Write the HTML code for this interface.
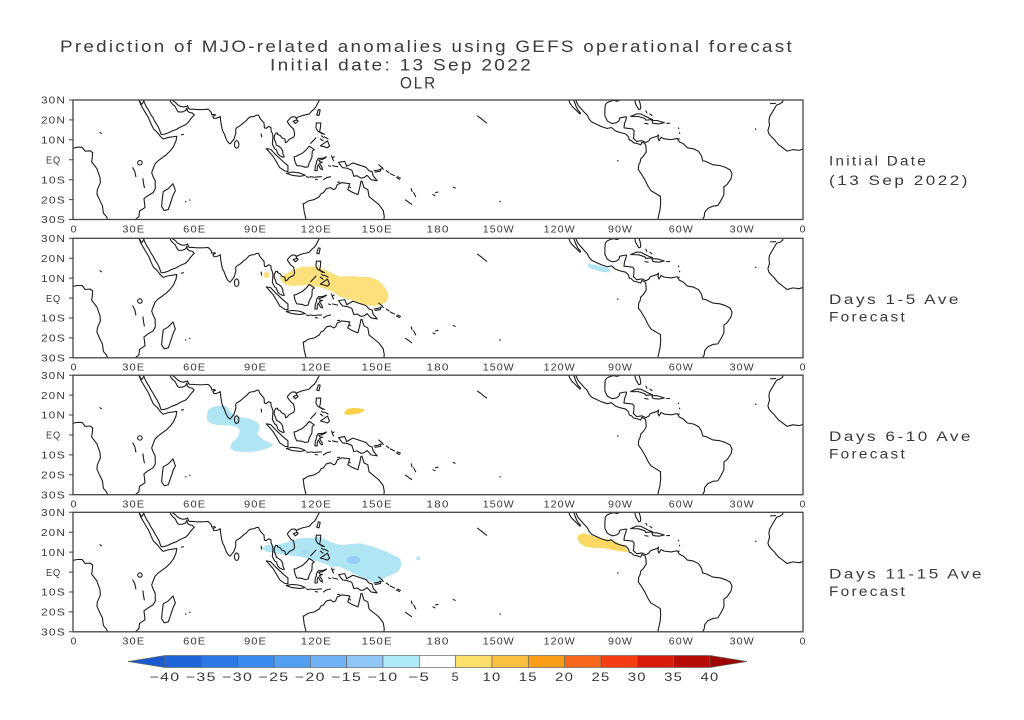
<!DOCTYPE html>
<html><head><meta charset="utf-8"><style>
html,body{margin:0;padding:0;background:#fff;}
svg{display:block;}
text{font-family:"Liberation Sans",sans-serif;fill:#3a3a3a;}
.s{letter-spacing:1px;}
.s2{letter-spacing:2px;}
</style></head><body>
<svg width="1024" height="720" viewBox="0 0 1024 720" xmlns="http://www.w3.org/2000/svg">
<defs>
<clipPath id="cl"><rect x="0" y="0" width="360" height="60"/></clipPath>
<g id="coast" fill="none" stroke="#1e1e1e" stroke-width="0.55" stroke-linejoin="round" stroke-linecap="round" clip-path="url(#cl)">
<path d="M-1,24.4 L2,23.7 4.5,23.7 6,25.7 8.5,25.5 9.7,26.5 9.5,29 9.2,31 11.8,34.5 12.3,36 13.3,38.8 13.5,41.5 12,45 11.8,47.2 13.5,51 14.5,53 15,56.8 16.5,58.6 17.5,61"/>
<path d="M32.5,-1 L32.5,0 33.5,2.5 35.5,6 37.3,9 38.5,12 39.7,14.5 41.5,16.2 43.2,18.4 44.5,19.6 47,18.8 51.2,18.2 50.8,20.5 49.5,23.5 48,25.5 46,27.5 44,29 42,30.5 40.5,32 39.5,34.5 38.8,36.5 39.5,38.5 40.5,40.5 40.6,44.5 39.5,46.5 37,48 35,49.5 35.3,52 35.5,54 32.8,55.8 32.5,58.5 31,59.8 30.3,61"/>
<path d="M32.6,-1 L32.7,0.3 33.8,2.2 34.4,1.5 34.9,0.5 34.7,-1"/>
<path d="M34.9,0.5 L35.5,2 36.5,4 37.5,5.5 38.5,7.5 39.5,9 40.5,11 41.5,12.5 42.5,14.5 43,16 43.5,17.3 45,17.2 47,16.5 49,15.5 51,14.8 52.2,14 53.8,13.2 55.5,12.5 57,11 58,9.5 59.8,7.5 58.8,6.5 57.5,6.3 56.4,5.5 56.2,4 55.5,5.3 54,6 52,6 51.5,5.5 51,4.5 50.5,3.5 50.2,3 49.5,2.5 48.5,1.5 48,0.5 47.8,-1"/>
<path d="M48.8,-1 L48.8,0 50.5,1.2 51.5,2.3 53,3.2 54.5,3.5 56,3.2 56.5,2.8 57,4.2 57.5,4.6 59,4.6 61.5,4.8 64,4.8 66.6,4.6 67.3,5.2 68.2,6.3 68.5,7.5 69.5,7.2 70.3,7.5 69,8.2 69.5,9.2 70.5,9.2 72,8.7 72.6,8.2 72.8,10 72.9,11 73.3,13.5 73.8,15.5 74.6,17 75.5,19.5 76.3,21 77.3,22 77.6,21.9 78.2,21.1 79.3,19.7 79.9,18 80.3,16.5 80.2,14.8 80.6,14 81.3,13.6 82.3,13 84,11.5 85.5,10.3 86.8,8.8 87.5,8.5 88.5,8.3 89.5,8.2 90.5,7.6 91.5,7.6 92,8.8 92.3,9.3 93,10.2 94.2,11.5 94.4,14 95.3,14.2 96.5,13.3 97.6,13.8 97.7,15.5 98.2,16.5 98.6,18 98.5,20 98.3,22 98.7,23 99.5,24.5 100.3,25 101,27 102,28 103.4,28.7 104.2,28.6 103.5,27 103.4,25.5 102.5,24 101.2,23.1 100.3,22.7 100,21.5 99.2,19.5 99.3,18 100,16.6 100.9,16.6 100.9,17.3 102.2,17.8 103,19 104.5,19.6 104.8,21.4 105.6,21 106.7,19.7 108.9,18.6 109.3,17.2 108.8,14.5 107.5,13.5 106.2,11.8 105.7,10.8 106.7,9.5 107.8,8.5 109,8.4 109.8,8.6 110.2,9.6 110.5,8.8 111.8,8.3 113.5,7.7 114.5,7.5 116.5,7 117.8,5.5 119,4.5 119.8,3.4 120.5,2 121.3,0.5 121.8,-1"/>
<ellipse cx="80.7" cy="22.3" rx="1.1" ry="1.9"/>
<path d="M108.6,10.7 L110.5,10 111,10.6 109.7,11.8 Z"/>
<path d="M120.2,7.5 L121,4.8 121.9,5 121.3,7.8 Z"/>
<path d="M92.8,17 L93,18.5"/>
<path d="M95.3,24.4 L97.5,24.8 100,27.5 103.7,31 106,33 106,35.9 104.5,35.7 102,34 100.3,31 98.7,28.3 Z"/>
<path d="M105.2,36.8 L108,36.2 111,36.5 112.6,36.9 114.5,37.8 112,38.3 108,37.8 Z"/>
<path d="M115,38.5 L116.5,38.8 M117,38.5 L119,38.8 M119.5,38.7 L122.5,38.5 M123.5,40 L125,39 127,38.5 M119.5,39.8 L120.5,40"/>
<path d="M109,28.5 L110,28.3 111.5,27.5 113,26.8 115,25 116.5,23.2 117.7,24 119,25 118,25.7 117.8,29 116.5,31.5 116,33.5 114.5,33.8 113,33.2 110.3,32.9 109.5,31 Z"/>
<path d="M125,28.5 L123,29.3 121,29.3 120.2,30.5 120,32 119.5,33 119.3,35.5 120.4,35.5 120.5,33.5 121,32.5 122,34.5 123,35 122.8,33.8 122,32.6 121.5,31.8 123,31.2 121.8,31 121.2,30.2 123,29.8 124.5,29 Z"/>
<path d="M127.5,28 L128,29.5 128.5,30.5 M128,29 L128.8,28.5 M126,33 L127,33.3 M128,33 L130.5,33.5"/>
<path d="M120,11.5 L122.2,11.5 122,14 121.6,16 124,17.2 123,17 120.6,15.5 119.8,14 Z"/>
<path d="M122,23 L125.5,20.5 126.5,23 125.5,24 124,23.5 Z"/>
<path d="M122,19.5 L123.3,20.5 M124,18.5 L125.8,19.5 M117.2,21.8 L119.8,19 M122.5,18 L123.5,18.8"/>
<path d="M131,31.3 L134,30.8 135,33.3 138,31.6 141,32.6 144.5,33.8 146,35.5 147.5,36 148,38 150,40.5 147,40 145,37.8 143.5,39 142,39.2 140,38 138.5,38.3 137.5,35.2 135,34.2 133,34 132,32.8 Z"/>
<path d="M148.5,35.5 L150.5,35.2 152,34.5 151.5,35.8 149,36.2 M150.8,32.5 L152.5,34 153,34.8 M154.5,35.5 L155.8,36.5 M156.5,37 L158.5,38 M159.5,39 L161,39.8 M160,38.5 L161.5,39.2"/>
<path d="M166.8,44.5 L167.2,46 M168,46.5 L169,48.5 M164,50.2 L167,52.4 M177.5,47.5 L178.5,48 M178.8,46.5 L180,46.2 M187.5,43.8 L188.5,44.2 M210.5,51 L210.8,51.1"/>
<path d="M113.5,52 L114,56 114.8,59.5 115,61 M114,52 L116,50.7 119,50 121.5,48.5 122.3,47 123.5,46.5 125,44.5 127,44 128.5,45 129.5,44.5 130.3,42.5 132.5,41.5 136.5,42 136,43.5 135.5,45 137.5,46.2 140.5,47.5 141.5,43.5 142,40.8 142.5,40.7 143.5,44 145.4,45 146,48.5 149,51 150.8,52.5 153,55.5 153.5,58.5 153.2,61"/>
<path d="M130.5,41.3 L131.5,41.2 M136.4,43.6 L136.8,44"/>
<path d="M49.3,42 L50.5,45.5 49.5,47.5 48,52 47,55 45,55.5 43.7,53.5 44,50 44.5,46 47,44.5 Z"/>
<circle cx="33" cy="31.5" r="1.1"/>
<path d="M29.5,34 L30.5,36 31,38.5 M34.5,39.5 L34.8,42 35.2,44 M53.5,17.5 L54.5,17.3 M55.5,51 L55.7,51.1 M57.5,50.2 L57.7,50.3 M13.3,16.3 L14,16.8"/>
<path d="M199.5,8 L201.5,9.5 203,10.8 204,11.5 M268.5,30.5 L268.8,30.6"/>
<path d="M244.2,-1 L245,1.5 246,3 247.5,4.5 249,6 250,7 250.3,6.5 249,5 248,3 247.5,1.5 246.5,-1"/>
<path d="M247.5,-1 L249,2.5 250.7,4.5 252,6 253.5,7.5 254.5,9.5 255.7,11 258.2,12.2 260.5,13.3 263.5,14.3 265.5,13.8 267.5,15.5 269,16.1 270.5,16.5 272.5,17 274,18.5 274.3,20 275.3,20.3 276.5,21.5 278,21.8 280,22.5 280.5,21.2 282,21.8 282.5,23 282.7,26 281.3,28.2 280,29.5 279.6,31.5 279,32.5 278.8,35 280.2,37 282,40 283.7,43.5 285,45.5 288.6,47.7 289.7,48.4 289.8,52 289.5,55 288.6,59 288.4,61"/>
<path d="M270,-1 L269,0.4 268,0.6 267,0.2 266,0.3 264.5,0.8 263.2,1.5 262.5,2.5 262.3,5 262.3,8 263.5,10.5 265,11.4 266,11.8 268,11.4 269.3,10.4 269.6,9 272,8.5 273,8.5 272.5,10.5 272,11.7 271.7,14 273.5,14.2 276,14.5 276.7,15.5 276.5,18.5 276.3,19.2 278,20.8 280.5,20.4 282.5,21.3 284,20.5 284.5,19.5 285.5,19 288,18.2 288.8,17.5 288.5,19.2 289,20.5 290,18.7 291.5,19.5 295,19.9 298,19.3 299,21 301,22 303,24 306,24.5 308.5,25.8 310,28.2 310.5,30.5 312,30.8 315.5,32.5 319,32.9 321.5,33.7 324,35 325,37 324.5,39.5 322.5,42.5 321,43.5 321,47.5 319.5,50.5 318,53 315.5,53.3 313,54.5 311.5,56.5 311.3,58.5 309.8,61"/>
<path d="M277,-1 L277.3,1.5 277.8,2.7 278.5,3.8 279,4.8 279.8,4.5 280,3.5 279.6,1.5 278.8,-1"/>
<path d="M275,8.2 L278,6.9 280,7 282.5,8.3 284.5,9.3 285.8,9.8 282.5,10.1 282,9.3 279,8.3 Z"/>
<path d="M285.5,10.3 L288,10.3 291.6,11.4 289,12 286,11.7 Z"/>
<path d="M282,11.7 L283.6,12 M292.8,11.7 L294.2,11.7 M282.5,5.5 L283,6.5 M284.5,7 L285.5,7.8 M298.5,14 L298.7,14.3 M299,16.5 L299.2,16.8 M298.5,19.6 L299,19.5"/>
<path d="M350.2,-1 L350,1 348.5,2 347,2.5 345.5,5 343.5,8.5 343.2,10.5 343.5,12.5 342.7,15.3 343.2,17 344.5,18.5 346,20 346.7,21 348,22.5 349,23.2 352,25.6 352.5,25.6 355,24.9 358,25.3 361,24.4"/>
<path d="M344,1.8 L346.5,1.7 M336.5,14.5 L336.8,14.7"/>
</g>
</defs>

<g class="s2">
<text x="60" y="52" font-size="16.5" textLength="734" lengthAdjust="spacingAndGlyphs">Prediction of MJO-related anomalies using GEFS operational forecast</text>
<text x="270" y="70.5" font-size="16.5" textLength="263" lengthAdjust="spacingAndGlyphs">Initial date: 13 Sep 2022</text>
<text x="400" y="88.5" font-size="16.5" textLength="37" lengthAdjust="spacingAndGlyphs">OLR</text>
</g>

<polygon fill="#fbe07c" points="280,278 287,273 293,270 300,267 307,266.7 314,266.5 320,268 325,270 330,272 336,275 340,276.7 350,276 360,276.7 368,277 373,278 379,281 383,285 386,289 388,293 388.5,297 388,300 385,303 380,305 373.3,306 366,305 356.7,301.7 348,299 340,296.7 333,292 326.7,289.3 320,287.3 313,286 306.7,285 300,285.5 293.3,286 286.7,285 281.7,281.7"/>
<circle cx="266.7" cy="275" r="3" fill="#fbe07c"/>
<polygon fill="#b0e6f4" points="588,263.5 594,264.5 600,266 607,267.5 611,269.5 609,272.5 603,272 596,270 590,268 587.5,266"/>

<polygon fill="#b0e6f4" points="206.7,416.7 208,410 213.3,406.7 220,405.5 226,406 230,411 233,414 236.7,416.7 242,417.5 246.7,418.3 252,419.5 256.7,421.7 260,426 259,430.5 257,433.5 260,437 264,440 270,443 273.3,445 270,447.5 265,449 258,451 253.3,451.7 246,452 240,451.7 234,451 231,449 230.5,445 233,441.5 237,438 239.5,433 239.5,429.5 236.7,427 230,425.5 224,425.3 216.7,425 211,423.5 207.5,421"/>
<polygon fill="#fbd24e" points="344,413.3 346.7,409.3 352,408 356.7,408 362,408.8 365,410 362,412.5 356,414 350,415 345.5,414.8"/>

<polygon fill="#b0e6f4" points="261.7,548.3 266.7,545 276.7,545 288.3,541.7 300,538.3 313.3,537.7 320,536.7 330,541.7 340,545 360,543.3 373.3,546.7 386.7,551.7 400,558.3 401.7,565 398.3,571.7 386.7,576.7 376.7,583.3 366.7,580 356.7,575 346.7,570 340,566.7 331.7,566.7 323.3,563.3 313.3,560 300,556.7 286.7,555 276.7,553.3 266.7,551.7"/>
<ellipse cx="353.3" cy="560" rx="7" ry="4" fill="#98cdf5"/>
<ellipse cx="305" cy="552" rx="4" ry="2.5" fill="#a4d8f5"/>
<circle cx="418.3" cy="558.3" r="2" fill="#b0e6f4"/>
<polygon fill="#fbd862" points="578.3,535 583.3,533.3 590,535 598.3,537.7 606.7,539 616.7,541.7 625,546.7 628.3,551.7 623.3,551.7 613.3,550 603.3,548.3 593.3,547.7 585,546.7 580,543.3 577.3,538.3"/>

<use href="#coast" transform="translate(73,100) scale(2.02778,1.99167)"/>
<use href="#coast" transform="translate(73,238.3) scale(2.02778,1.99167)"/>
<use href="#coast" transform="translate(73,375.2) scale(2.02778,1.99167)"/>
<use href="#coast" transform="translate(73,512.3) scale(2.02778,1.99167)"/>

<g fill="none" stroke="#444" stroke-width="1.3">
<rect x="73" y="100" width="730" height="119.5"/>
<rect x="73" y="238.3" width="730" height="119.5"/>
<rect x="73" y="375.2" width="730" height="119.5"/>
<rect x="73" y="512.3" width="730" height="119.5"/>
</g>
<g stroke="#444" stroke-width="1">
<path d="M69,100H73M69,119.9H73M69,139.8H73M69,159.8H73M69,179.7H73M69,199.6H73M69,219.5H73"/>
<path d="M69,238.3H73M69,258.2H73M69,278.1H73M69,298.1H73M69,318H73M69,337.9H73M69,357.8H73"/>
<path d="M69,375.2H73M69,395.1H73M69,415H73M69,435H73M69,454.9H73M69,474.8H73M69,494.7H73"/>
<path d="M69,512.3H73M69,532.2H73M69,552.1H73M69,572.1H73M69,592H73M69,611.9H73M69,631.8H73"/>
</g>

<g font-size="10.5" text-anchor="middle" class="s">
<text x="53.5" y="103.7" textLength="25" lengthAdjust="spacingAndGlyphs">30N</text><text x="53.5" y="123.6" textLength="25" lengthAdjust="spacingAndGlyphs">20N</text><text x="53.5" y="143.5" textLength="25" lengthAdjust="spacingAndGlyphs">10N</text><text x="53.5" y="163.5" textLength="15" lengthAdjust="spacingAndGlyphs">EQ</text><text x="53.5" y="183.4" textLength="25" lengthAdjust="spacingAndGlyphs">10S</text><text x="53.5" y="203.3" textLength="25" lengthAdjust="spacingAndGlyphs">20S</text><text x="53.5" y="223.2" textLength="25" lengthAdjust="spacingAndGlyphs">30S</text>
<text x="53.5" y="242" textLength="25" lengthAdjust="spacingAndGlyphs">30N</text><text x="53.5" y="261.9" textLength="25" lengthAdjust="spacingAndGlyphs">20N</text><text x="53.5" y="281.8" textLength="25" lengthAdjust="spacingAndGlyphs">10N</text><text x="53.5" y="301.8" textLength="15" lengthAdjust="spacingAndGlyphs">EQ</text><text x="53.5" y="321.7" textLength="25" lengthAdjust="spacingAndGlyphs">10S</text><text x="53.5" y="341.6" textLength="25" lengthAdjust="spacingAndGlyphs">20S</text><text x="53.5" y="361.5" textLength="25" lengthAdjust="spacingAndGlyphs">30S</text>
<text x="53.5" y="378.9" textLength="25" lengthAdjust="spacingAndGlyphs">30N</text><text x="53.5" y="398.8" textLength="25" lengthAdjust="spacingAndGlyphs">20N</text><text x="53.5" y="418.7" textLength="25" lengthAdjust="spacingAndGlyphs">10N</text><text x="53.5" y="438.7" textLength="15" lengthAdjust="spacingAndGlyphs">EQ</text><text x="53.5" y="458.6" textLength="25" lengthAdjust="spacingAndGlyphs">10S</text><text x="53.5" y="478.5" textLength="25" lengthAdjust="spacingAndGlyphs">20S</text><text x="53.5" y="498.4" textLength="25" lengthAdjust="spacingAndGlyphs">30S</text>
<text x="53.5" y="516" textLength="25" lengthAdjust="spacingAndGlyphs">30N</text><text x="53.5" y="535.9" textLength="25" lengthAdjust="spacingAndGlyphs">20N</text><text x="53.5" y="555.8" textLength="25" lengthAdjust="spacingAndGlyphs">10N</text><text x="53.5" y="575.8" textLength="15" lengthAdjust="spacingAndGlyphs">EQ</text><text x="53.5" y="595.7" textLength="25" lengthAdjust="spacingAndGlyphs">10S</text><text x="53.5" y="615.6" textLength="25" lengthAdjust="spacingAndGlyphs">20S</text><text x="53.5" y="635.5" textLength="25" lengthAdjust="spacingAndGlyphs">30S</text>
</g>

<g font-size="10.5" text-anchor="middle" class="s">
<text x="74" y="232.3">0</text><text x="133.8" y="232.3" textLength="23" lengthAdjust="spacingAndGlyphs">30E</text><text x="194.7" y="232.3" textLength="23" lengthAdjust="spacingAndGlyphs">60E</text><text x="255.5" y="232.3" textLength="23" lengthAdjust="spacingAndGlyphs">90E</text><text x="316.3" y="232.3" textLength="31" lengthAdjust="spacingAndGlyphs">120E</text><text x="377.2" y="232.3" textLength="31" lengthAdjust="spacingAndGlyphs">150E</text><text x="438" y="232.3" textLength="23" lengthAdjust="spacingAndGlyphs">180</text><text x="498.8" y="232.3" textLength="32" lengthAdjust="spacingAndGlyphs">150W</text><text x="559.7" y="232.3" textLength="32" lengthAdjust="spacingAndGlyphs">120W</text><text x="620.5" y="232.3" textLength="25" lengthAdjust="spacingAndGlyphs">90W</text><text x="681.3" y="232.3" textLength="25" lengthAdjust="spacingAndGlyphs">60W</text><text x="742.2" y="232.3" textLength="25" lengthAdjust="spacingAndGlyphs">30W</text><text x="803" y="232.3">0</text>
</g>
<g font-size="10.5" text-anchor="middle" class="s">
<text x="74" y="370.5">0</text><text x="133.8" y="370.5" textLength="23" lengthAdjust="spacingAndGlyphs">30E</text><text x="194.7" y="370.5" textLength="23" lengthAdjust="spacingAndGlyphs">60E</text><text x="255.5" y="370.5" textLength="23" lengthAdjust="spacingAndGlyphs">90E</text><text x="316.3" y="370.5" textLength="31" lengthAdjust="spacingAndGlyphs">120E</text><text x="377.2" y="370.5" textLength="31" lengthAdjust="spacingAndGlyphs">150E</text><text x="438" y="370.5" textLength="23" lengthAdjust="spacingAndGlyphs">180</text><text x="498.8" y="370.5" textLength="32" lengthAdjust="spacingAndGlyphs">150W</text><text x="559.7" y="370.5" textLength="32" lengthAdjust="spacingAndGlyphs">120W</text><text x="620.5" y="370.5" textLength="25" lengthAdjust="spacingAndGlyphs">90W</text><text x="681.3" y="370.5" textLength="25" lengthAdjust="spacingAndGlyphs">60W</text><text x="742.2" y="370.5" textLength="25" lengthAdjust="spacingAndGlyphs">30W</text><text x="803" y="370.5">0</text>
</g>
<g font-size="10.5" text-anchor="middle" class="s">
<text x="74" y="507.4">0</text><text x="133.8" y="507.4" textLength="23" lengthAdjust="spacingAndGlyphs">30E</text><text x="194.7" y="507.4" textLength="23" lengthAdjust="spacingAndGlyphs">60E</text><text x="255.5" y="507.4" textLength="23" lengthAdjust="spacingAndGlyphs">90E</text><text x="316.3" y="507.4" textLength="31" lengthAdjust="spacingAndGlyphs">120E</text><text x="377.2" y="507.4" textLength="31" lengthAdjust="spacingAndGlyphs">150E</text><text x="438" y="507.4" textLength="23" lengthAdjust="spacingAndGlyphs">180</text><text x="498.8" y="507.4" textLength="32" lengthAdjust="spacingAndGlyphs">150W</text><text x="559.7" y="507.4" textLength="32" lengthAdjust="spacingAndGlyphs">120W</text><text x="620.5" y="507.4" textLength="25" lengthAdjust="spacingAndGlyphs">90W</text><text x="681.3" y="507.4" textLength="25" lengthAdjust="spacingAndGlyphs">60W</text><text x="742.2" y="507.4" textLength="25" lengthAdjust="spacingAndGlyphs">30W</text><text x="803" y="507.4">0</text>
</g>
<g font-size="10.5" text-anchor="middle" class="s">
<text x="74" y="644.3">0</text><text x="133.8" y="644.3" textLength="23" lengthAdjust="spacingAndGlyphs">30E</text><text x="194.7" y="644.3" textLength="23" lengthAdjust="spacingAndGlyphs">60E</text><text x="255.5" y="644.3" textLength="23" lengthAdjust="spacingAndGlyphs">90E</text><text x="316.3" y="644.3" textLength="31" lengthAdjust="spacingAndGlyphs">120E</text><text x="377.2" y="644.3" textLength="31" lengthAdjust="spacingAndGlyphs">150E</text><text x="438" y="644.3" textLength="23" lengthAdjust="spacingAndGlyphs">180</text><text x="498.8" y="644.3" textLength="32" lengthAdjust="spacingAndGlyphs">150W</text><text x="559.7" y="644.3" textLength="32" lengthAdjust="spacingAndGlyphs">120W</text><text x="620.5" y="644.3" textLength="25" lengthAdjust="spacingAndGlyphs">90W</text><text x="681.3" y="644.3" textLength="25" lengthAdjust="spacingAndGlyphs">60W</text><text x="742.2" y="644.3" textLength="25" lengthAdjust="spacingAndGlyphs">30W</text><text x="803" y="644.3">0</text>
</g>

<g font-size="13.5" class="s2">
<text x="829" y="165.5" textLength="99" lengthAdjust="spacingAndGlyphs">Initial Date</text>
<text x="829" y="185" textLength="141" lengthAdjust="spacingAndGlyphs">(13 Sep 2022)</text>
<text x="829" y="304" textLength="132" lengthAdjust="spacingAndGlyphs">Days 1-5 Ave</text>
<text x="829" y="321.7" textLength="78" lengthAdjust="spacingAndGlyphs">Forecast</text>
<text x="829" y="441" textLength="144" lengthAdjust="spacingAndGlyphs">Days 6-10 Ave</text>
<text x="829" y="458.3" textLength="78" lengthAdjust="spacingAndGlyphs">Forecast</text>
<text x="829" y="578.3" textLength="155" lengthAdjust="spacingAndGlyphs">Days 11-15 Ave</text>
<text x="829" y="596" textLength="78" lengthAdjust="spacingAndGlyphs">Forecast</text>
</g>

<g stroke="#666" stroke-width="0.7">
<polygon points="128,661.5 165,655.5 165,667.5" fill="#1a5acf"/>
<rect x="165" y="655.5" width="36.33" height="12" fill="#1f64d8"/>
<rect x="201.33" y="655.5" width="36.33" height="12" fill="#2d78e4"/>
<rect x="237.67" y="655.5" width="36.33" height="12" fill="#3b8cee"/>
<rect x="274" y="655.5" width="36.33" height="12" fill="#529ef2"/>
<rect x="310.33" y="655.5" width="36.33" height="12" fill="#70b2f5"/>
<rect x="346.67" y="655.5" width="36.33" height="12" fill="#8fc6f8"/>
<rect x="383" y="655.5" width="36.33" height="12" fill="#aeeaf9"/>
<rect x="419.33" y="655.5" width="36.33" height="12" fill="#ffffff"/>
<rect x="455.67" y="655.5" width="36.33" height="12" fill="#fde06c"/>
<rect x="492" y="655.5" width="36.33" height="12" fill="#fcc040"/>
<rect x="528.33" y="655.5" width="36.33" height="12" fill="#fa9e18"/>
<rect x="564.67" y="655.5" width="36.33" height="12" fill="#f7681c"/>
<rect x="601" y="655.5" width="36.33" height="12" fill="#f23e12"/>
<rect x="637.33" y="655.5" width="36.33" height="12" fill="#da1c0b"/>
<rect x="673.67" y="655.5" width="36.33" height="12" fill="#b80c06"/>
<polygon points="710,655.5 747,661.5 710,667.5" fill="#9e0000"/>
</g>
<g font-size="12" text-anchor="middle" class="s">
<text x="165" y="681" textLength="31" lengthAdjust="spacingAndGlyphs">−40</text>
<text x="201.3" y="681" textLength="31" lengthAdjust="spacingAndGlyphs">−35</text>
<text x="237.7" y="681" textLength="31" lengthAdjust="spacingAndGlyphs">−30</text>
<text x="274" y="681" textLength="31" lengthAdjust="spacingAndGlyphs">−25</text>
<text x="310.3" y="681" textLength="31" lengthAdjust="spacingAndGlyphs">−20</text>
<text x="346.7" y="681" textLength="31" lengthAdjust="spacingAndGlyphs">−15</text>
<text x="383" y="681" textLength="31" lengthAdjust="spacingAndGlyphs">−10</text>
<text x="419.3" y="681" textLength="22" lengthAdjust="spacingAndGlyphs">−5</text>
<text x="455.7" y="681" textLength="8" lengthAdjust="spacingAndGlyphs">5</text>
<text x="492" y="681" textLength="19" lengthAdjust="spacingAndGlyphs">10</text>
<text x="528.3" y="681" textLength="19" lengthAdjust="spacingAndGlyphs">15</text>
<text x="564.7" y="681" textLength="19" lengthAdjust="spacingAndGlyphs">20</text>
<text x="601" y="681" textLength="19" lengthAdjust="spacingAndGlyphs">25</text>
<text x="637.3" y="681" textLength="19" lengthAdjust="spacingAndGlyphs">30</text>
<text x="673.7" y="681" textLength="19" lengthAdjust="spacingAndGlyphs">35</text>
<text x="710" y="681" textLength="19" lengthAdjust="spacingAndGlyphs">40</text>
</g>
</svg>
</body></html>
